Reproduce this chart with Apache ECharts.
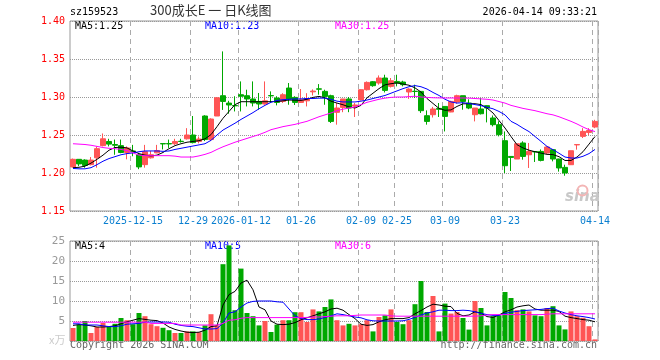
<!DOCTYPE html>
<html><head><meta charset="utf-8">
<script src="https://cdn.jsdelivr.net/npm/echarts@6/dist/echarts.min.js"></script>
<style>html,body{margin:0;padding:0;background:#fff}#c{width:660px;height:360px}</style>
</head><body><div id="c"></div>
<script>
const dates = ['2025-12-01','2025-12-02','2025-12-03','2025-12-04','2025-12-05','2025-12-08','2025-12-09','2025-12-10','2025-12-11','2025-12-12',
'2025-12-15','2025-12-16','2025-12-17','2025-12-18','2025-12-19','2025-12-22','2025-12-23','2025-12-24','2025-12-25','2025-12-26',
'2025-12-29','2025-12-30','2025-12-31','2026-01-05','2026-01-06','2026-01-07','2026-01-08','2026-01-09',
'2026-01-12','2026-01-13','2026-01-14','2026-01-15','2026-01-16','2026-01-19','2026-01-20','2026-01-21','2026-01-22','2026-01-23',
'2026-01-26','2026-01-27','2026-01-28','2026-01-29','2026-01-30','2026-02-02','2026-02-03','2026-02-04','2026-02-05','2026-02-06',
'2026-02-09','2026-02-10','2026-02-11','2026-02-12','2026-02-13','2026-02-24','2026-02-25','2026-02-26','2026-02-27',
'2026-03-02','2026-03-03','2026-03-04','2026-03-05','2026-03-06','2026-03-09','2026-03-10','2026-03-11','2026-03-12','2026-03-13',
'2026-03-16','2026-03-17','2026-03-18','2026-03-19','2026-03-20','2026-03-23','2026-03-24','2026-03-25','2026-03-26','2026-03-27',
'2026-03-30','2026-03-31','2026-04-01','2026-04-02','2026-04-03','2026-04-07','2026-04-08','2026-04-09','2026-04-10','2026-04-13','2026-04-14'];

const tickLabels = {'2025-12-15':'2025-12-15','2025-12-29':'12-29','2026-01-12':'2026-01-12','2026-01-26':'01-26',
'2026-02-09':'02-09','2026-02-25':'02-25','2026-03-09':'03-09','2026-03-23':'03-23','2026-04-14':'04-14'};

const opens = [1.208,1.218,1.217,1.211,1.220,1.236,1.2415,1.2375,1.236,1.227,
1.229,1.224,1.211,1.220,1.2265,1.2387,1.2387,1.2385,1.2418,1.245,
1.250,1.2416,1.275,1.244,1.275,1.3017,1.292,1.2888,1.303,1.3017,
1.2974,1.2942,1.2908,1.3019,1.2987,1.2942,1.3118,1.2995,1.2929,1.295,
1.3068,1.3107,1.3074,1.3017,1.2798,1.2863,1.2974,1.2880,1.2962,1.3096,
1.3201,1.3184,1.325,1.314,1.3205,1.3197,1.3066,1.3076,1.3074,1.2754,
1.2767,1.2850,1.2876,1.2803,1.2934,1.3017,1.2921,1.2767,1.2842,1.2886,
1.2724,1.2636,1.2425,1.2218,1.2184,1.2395,1.224,1.2282,1.2284,1.2263,
1.2307,1.2184,1.2074,1.2109,1.2370,1.2482,1.2534,1.2605];
const closes = [1.218,1.212,1.210,1.217,1.232,1.245,1.238,1.2365,1.227,1.233,
1.228,1.208,1.228,1.224,1.2295,1.2383,1.2383,1.2415,1.2414,1.250,
1.240,1.2447,1.244,1.271,1.299,1.2942,1.2895,1.2884,1.301,1.2974,
1.2921,1.2908,1.295,1.3015,1.2929,1.303,1.2974,1.2929,1.2962,1.2978,
1.3078,1.3103,1.3008,1.2679,1.2855,1.2974,1.2855,1.2895,1.3096,1.3192,
1.3149,1.325,1.3087,1.3214,1.3184,1.3162,1.3105,1.3072,1.282,1.2679,
1.2842,1.2838,1.2745,1.2942,1.3017,1.2942,1.2855,1.2855,1.278,1.2855,
1.2636,1.2504,1.2096,1.2205,1.2385,1.2218,1.2284,1.2278,1.2166,1.2342,
1.2184,1.2066,1.200,1.2293,1.2374,1.2547,1.256,1.2679];
const lows = [1.207,1.209,1.207,1.210,1.207,1.235,1.235,1.224,1.226,1.218,
1.222,1.205,1.207,1.219,1.226,1.231,1.233,1.237,1.240,1.244,
1.239,1.239,1.242,1.242,1.275,1.283,1.278,1.281,1.281,1.2876,
1.2876,1.2833,1.290,1.2921,1.289,1.2921,1.2898,1.2895,1.2921,1.2876,
1.302,1.303,1.2898,1.2658,1.2636,1.280,1.280,1.2737,1.2955,1.3085,
1.3135,1.3162,1.306,1.3125,1.314,1.314,1.2975,1.2987,1.279,1.2636,
1.273,1.2737,1.2547,1.280,1.2911,1.2833,1.284,1.2679,1.277,1.2666,
1.2613,1.2482,1.200,1.2026,1.2184,1.2175,1.2066,1.2145,1.2153,1.2250,
1.2153,1.2018,1.1964,1.2105,1.2307,1.2460,1.2500,1.2590];
const highs = [1.219,1.218,1.218,1.221,1.235,1.252,1.245,1.244,1.244,1.235,
1.237,1.226,1.237,1.229,1.237,1.2387,1.244,1.245,1.245,1.259,
1.275,1.248,1.276,1.272,1.300,1.360,1.295,1.301,1.3205,1.3096,
1.3205,1.3053,1.3205,1.3074,1.301,1.305,1.3184,1.301,1.3105,1.305,
1.310,1.317,1.3096,1.303,1.2921,1.2974,1.300,1.2921,1.3100,1.3205,
1.3210,1.3284,1.3293,1.325,1.3293,1.3214,1.3114,1.3162,1.3074,1.2824,
1.287,1.2921,1.288,1.295,1.3030,1.3017,1.297,1.2855,1.2987,1.2890,
1.2757,1.2680,1.2547,1.2218,1.2385,1.2417,1.2395,1.2282,1.231,1.2350,
1.2307,1.2188,1.2109,1.2293,1.2374,1.2590,1.2590,1.2700];

const ma5 = [1.207,1.2075,1.209,1.213,1.218,1.2235,1.230,1.2335,1.234,1.233,
1.229,1.2255,1.2235,1.2225,1.2235,1.227,1.232,1.236,1.2385,1.2405,
1.2415,1.2425,1.245,1.2505,1.261,1.272,1.281,1.290,1.2938,1.2938,
1.2938,1.2938,1.2938,1.2938,1.2940,1.295,1.296,1.2958,1.2955,1.297,
1.2995,1.3008,1.299,1.2945,1.292,1.2898,1.287,1.2855,1.289,1.299,
1.305,1.311,1.316,1.3175,1.3185,1.317,1.3155,1.312,1.3065,1.298,
1.2915,1.285,1.2825,1.283,1.2876,1.291,1.2912,1.2912,1.290,1.2855,
1.279,1.269,1.2592,1.248,1.2372,1.233,1.230,1.228,1.2262,1.2245,
1.2242,1.2215,1.2165,1.2165,1.221,1.228,1.238,1.248];
const ma10 = [1.206,1.2055,1.2055,1.207,1.211,1.2155,1.219,1.2215,1.224,1.2255,
1.2265,1.228,1.229,1.229,1.229,1.2285,1.229,1.231,1.2325,1.234,
1.2355,1.237,1.2385,1.243,1.250,1.2565,1.261,1.2655,1.2705,1.275,
1.2795,1.2845,1.289,1.293,1.2955,1.2965,1.297,1.2975,1.2975,1.298,
1.298,1.2985,1.2985,1.297,1.2945,1.2935,1.2935,1.2935,1.2945,1.296,
1.298,1.300,1.302,1.305,1.308,1.311,1.3135,1.315,1.3135,1.3105,
1.306,1.302,1.297,1.2935,1.292,1.2925,1.2915,1.290,1.2886,1.2865,
1.2845,1.281,1.2765,1.268,1.264,1.259,1.2545,1.248,1.2416,1.235,
1.2307,1.226,1.221,1.2197,1.2197,1.222,1.2255,1.231];
const ma30 = [1.2385,1.238,1.2375,1.2365,1.235,1.2335,1.2325,1.232,1.231,1.2295,
1.2265,1.2235,1.2228,1.2228,1.2228,1.2228,1.2228,1.2222,1.221,1.221,
1.221,1.2225,1.2245,1.2271,1.231,1.2345,1.2375,1.2405,1.243,1.2455,
1.248,1.2505,1.2535,1.257,1.259,1.261,1.2625,1.264,1.266,1.268,
1.271,1.274,1.2765,1.279,1.282,1.284,1.2855,1.287,1.29,1.293,
1.295,1.297,1.2985,1.2995,1.300,1.300,1.3005,1.301,1.300,1.2995,
1.299,1.2988,1.2987,1.2987,1.2987,1.2987,1.2985,1.298,1.2975,1.297,
1.296,1.294,1.292,1.289,1.287,1.285,1.2835,1.282,1.280,1.278,
1.2765,1.274,1.271,1.268,1.2645,1.2605,1.257,1.2545];

const volumes = [3.25,4.1,5.0,2.0,3.5,4.5,3.5,4.3,5.75,5.2,
4.2,7.0,6.2,4.2,3.7,3.3,2.7,2.0,2.0,2.4,
2.4,2.2,3.9,6.7,3.9,19.2,23.9,7.7,18.1,7.0,
6.2,3.9,5.0,2.25,4.1,5.2,5.2,7.2,7.2,4.75,
7.9,7.4,8.5,10.4,5.2,3.9,4.3,3.9,4.2,5.2,
2.4,6.0,6.4,7.9,4.75,4.2,5.2,9.2,15.0,7.25,
11.25,2.4,9.35,6.85,7.25,5.75,2.85,10.0,8.25,3.9,
6.2,6.4,12.25,10.75,7.7,7.9,7.4,6.4,6.2,8.25,
8.7,3.9,2.9,7.4,6.2,5.8,3.7,0.4];
const volMa5 = [3.9,4.1,4.0,3.8,3.5,3.5,3.6,3.8,4.3,4.8,
5.2,5.6,5.4,5.2,5.1,4.5,3.5,2.9,2.5,2.2,
2.1,2.2,2.7,3.6,3.8,9.0,11.6,12.4,14.5,15.2,
12.8,8.5,7.8,5.0,4.2,4.1,4.2,4.6,5.3,5.8,
6.3,6.8,7.3,8.0,8.2,7.7,6.6,5.6,4.2,3.9,
4.1,4.8,5.3,5.6,5.6,5.6,5.85,6.8,7.6,8.5,
9.2,9.0,8.7,8.6,6.9,6.3,6.5,7.3,7.0,6.1,
5.9,6.5,7.3,7.8,8.5,8.8,9.0,8.0,7.7,7.7,
7.7,7.4,6.2,5.85,5.6,5.35,5.2,4.8];
const volMa10 = [4.3,4.3,4.0,4.0,4.0,3.8,3.6,3.6,3.8,4.2,
4.3,4.4,4.7,4.75,4.75,4.75,4.7,4.2,3.9,3.7,
3.6,3.3,3.0,3.0,3.1,4.5,7.0,7.3,8.5,9.5,
9.9,10.0,10.0,10.0,9.8,9.7,8.0,6.3,5.6,5.35,
5.35,5.5,5.9,6.3,6.8,6.6,6.3,6.0,5.8,5.3,
5.05,5.0,5.0,5.0,5.0,5.05,5.4,5.9,6.5,7.0,
7.3,7.7,7.7,7.6,7.6,7.7,7.6,7.3,6.9,6.6,
6.4,6.4,6.9,7.2,7.4,7.6,7.7,7.8,7.9,8.1,
8.2,7.5,7.0,6.6,6.3,6.1,5.85,5.5];
const volMa30 = [4.7,4.7,4.7,4.7,4.7,4.7,4.7,4.7,4.7,4.7,
4.7,4.7,4.7,4.4,4.4,4.4,4.4,4.4,4.0,4.0,
4.0,4.0,4.0,4.0,4.0,4.4,5.2,5.3,5.7,5.85,
5.85,5.85,5.85,5.85,5.85,5.85,5.85,5.85,5.85,5.9,
6.0,6.0,6.1,6.2,6.3,6.3,6.3,6.4,6.5,6.5,
6.5,6.5,6.5,6.3,6.2,6.2,6.2,6.2,6.2,6.2,
6.2,6.2,6.2,6.2,6.2,6.2,6.2,6.2,6.3,6.5,
6.6,6.6,6.6,6.6,6.6,6.6,6.6,6.6,6.6,6.7,
6.8,6.8,6.8,6.8,6.8,6.8,6.8,6.8];

const priceTicks = {min:1.15, max:1.40, step:0.05};
const volTicks = {min:0, max:25, step:5};
const unitLabel = 'x万';

const UP = '#ff5555', DOWN = '#00a800';
const MONO = '"DejaVu Sans Mono", "Liberation Mono", monospace';
const chart = echarts.init(document.getElementById('c'), null, {renderer:'canvas'});

const kData = dates.map((d,i)=>[opens[i], closes[i], lows[i], highs[i]]);
const volData = volumes.map((v,i)=>({value:v, itemStyle:{color: closes[i] >= opens[i] ? UP : DOWN}}));
const showTick = (idx) => tickLabels[dates[idx]] !== undefined;

const catAxis = (gi, withLabels) => ({
  type:'category', gridIndex:gi, data:dates, boundaryGap:true,
  axisLine:{show:false}, axisTick:{show:false},
  axisLabel: withLabels ? {show:true, interval:(i)=>showTick(i), formatter:(v)=>tickLabels[v]||'',
     color:'#0a7fd0', fontFamily:MONO, fontSize:10, margin:5} : {show:false},
  splitLine:{show:true, interval:(i)=>showTick(i), lineStyle:{color:'#aaa', type:[5,4], width:1}}
});

const lineS = (name, xi, yi, data, color) => ({
  name, type:'line', xAxisIndex:xi, yAxisIndex:yi, data, symbol:'none', silent:true,
  lineStyle:{color, width:1}, z:5
});

chart.setOption({
  animation:false,
  backgroundColor:'#fff',
  grid:[
    {left:70, top:21, width:528, height:190, show:true, borderColor:'#999', borderWidth:1, backgroundColor:'transparent'},
    {left:70, top:241, width:528, height:100, show:true, borderColor:'#999', borderWidth:1, backgroundColor:'transparent'}
  ],
  xAxis:[catAxis(0,true), catAxis(1,false)],
  yAxis:[
    {type:'value', gridIndex:0, min:priceTicks.min, max:priceTicks.max, interval:priceTicks.step,
     axisLine:{show:false}, axisTick:{show:false},
     axisLabel:{color:'#ff0000', fontFamily:MONO, fontSize:10, margin:5, formatter:(v)=>v.toFixed(2)},
     splitLine:{show:true, lineStyle:{color:'#999', type:[1,1]}}},
    {type:'value', gridIndex:1, min:volTicks.min, max:volTicks.max, interval:volTicks.step,
     axisLine:{show:false}, axisTick:{show:false},
     axisLabel:{color:'#999', fontFamily:MONO, fontSize:11, margin:5, formatter:(v)=> v===0 ? '' : String(v)},
     splitLine:{show:true, lineStyle:{color:'#999', type:[1,1]}}}
  ],
  series:[
    {type:'candlestick', xAxisIndex:0, yAxisIndex:0, data:kData, barWidth:5, silent:true,
     itemStyle:{color:UP, color0:DOWN, borderColor:UP, borderColor0:DOWN, borderWidth:1}, z:3},
    lineS('MA5',0,0,ma5,'#000000'),
    lineS('MA10',0,0,ma10,'#0000ff'),
    lineS('MA30',0,0,ma30,'#ff00ff'),
    {type:'bar', xAxisIndex:1, yAxisIndex:1, data:volData, barWidth:5, silent:true, z:3},
    lineS('VMA5',1,1,volMa5,'#000000'),
    lineS('VMA10',1,1,volMa10,'#0000ff'),
    lineS('VMA30',1,1,volMa30,'#ff00ff')
  ],
  graphic:[
    {type:'text', left:70, top:7, style:{text:'sz159523', font:'10px '+MONO, fill:'#000'}},
    {type:'text', left:150, top:4, style:{text:'300成长E 一 日K线图', font:'13px "Noto Sans CJK SC"', fill:'#333'}},
    {type:'text', right:63, top:7, style:{text:'2026-04-14 09:33:21', font:'10px '+MONO, fill:'#000'}},
    {type:'text', left:75, top:21, style:{text:'MA5:'+ma5[ma5.length-1].toFixed(2), font:'10px '+MONO, fill:'#000'}},
    {type:'text', left:205, top:21, style:{text:'MA10:'+ma10[ma10.length-1].toFixed(2), font:'10px '+MONO, fill:'#0000ff'}},
    {type:'text', left:335, top:21, style:{text:'MA30:1.25', font:'10px '+MONO, fill:'#ff00ff'}},
    {type:'text', left:75, top:241, style:{text:'MA5:4', font:'10px '+MONO, fill:'#000'}},
    {type:'text', left:205, top:241, style:{text:'MA10:5', font:'10px '+MONO, fill:'#0000ff'}},
    {type:'text', left:335, top:241, style:{text:'MA30:6', font:'10px '+MONO, fill:'#ff00ff'}},
    {type:'text', left:49, top:334, style:{text:unitLabel, font:'11px "Noto Sans CJK SC"', fill:'#ccc'}},
    {type:'text', left:70, top:340, style:{text:'Copyright 2026 SINA.COM', font:'10px '+MONO, fill:'#666'}},
    {type:'text', right:63, top:340, style:{text:'http://finance.sina.com.cn', font:'10px '+MONO, fill:'#666'}},
    {type:'text', left:565, top:190, z:1, style:{text:'sina', font:'italic bold 15px "DejaVu Sans"', fill:'#c8c8c8'}},
    {type:'circle', left:575, top:183, z:1, shape:{r:5}, style:{fill:'none', stroke:'#f3b5b5', lineWidth:2}}
  ]
});
</script></body></html>
